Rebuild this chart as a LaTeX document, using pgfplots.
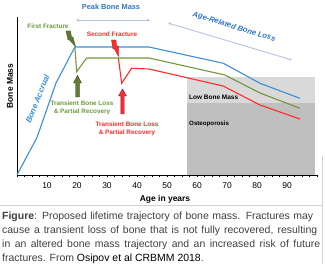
\documentclass[border=0pt]{standalone}
\usepackage{pgfplots}
\pgfplotsset{compat=1.18}
\usetikzlibrary{arrows.meta}
\usepackage{fontspec}
\setmainfont{Liberation Sans}
\definecolor{cblue}{HTML}{3A8FD6}
\definecolor{tblue}{HTML}{2E75C6}
\definecolor{cgreen}{HTML}{77933C}
\definecolor{tgreen}{HTML}{6A9A3A}
\definecolor{cred}{HTML}{FF2A2A}
\definecolor{lgray}{HTML}{D9D9D9}
\definecolor{dgray}{HTML}{BFBFBF}
\definecolor{arrgray}{HTML}{B4C4DE}
\definecolor{capgray}{HTML}{404040}
\begin{document}
\begin{tikzpicture}[x=1bp,y=1bp]
\useasboundingbox (0,0) rectangle (325,266);
\begin{axis}[at={(17bp,91bp)}, anchor=south west, scale only axis,
  width=300bp, height=158bp, xmin=0, xmax=100, ymin=0, ymax=158,
  clip=false, axis x line=bottom, axis y line=left,
  axis line style={-, line width=0.9bp, black},
  x axis line style={-}, y axis line style={-},
  xtick={10,20,...,90}, minor xtick={0,2.5,...,100}, ytick=\empty,
  tick align=outside, major tick length=2.5bp, minor tick length=2.5bp,
  tick style={black, line width=0.6bp},
  ticklabel style={font=\fontsize{8.5}{10}\selectfont},
  xticklabel style={yshift=-2bp},
  /pgf/number format/assume math mode=true]
\addplot[fill=lgray, draw=none] coordinates {(56.7,98) (99.3,98)} \closedcycle;
\addplot[fill=dgray, draw=none] coordinates {(56.7,72) (99.3,72)} \closedcycle;
\addplot[cred, line width=1.1bp] coordinates {(33.8,117) (34.9,91.7) (38.2,106.7) (44,106) (68.7,89) (81,70) (94.3,56)};
\addplot[cgreen, line width=1.1bp] coordinates {(19.3,128) (19.9,103.3) (23.2,117) (44,117) (69.3,100) (81,82) (94.3,66.7)};
\addplot[cblue, line width=1.1bp] coordinates {(0,0) (3,17) (6.6,37) (13,92) (19.3,128) (44,128) (68.8,111.7) (81,91.7) (94.3,76.7)};
\end{axis}
% labels
\node[font=\fontsize{8.5}{10}\selectfont\bfseries] at (165,67) {Age in years};
\node[font=\fontsize{8.5}{10}\selectfont\bfseries, rotate=90] at (10,180) {Bone Mass};
% peak arrow
\draw[arrgray, line width=0.9bp, {Stealth[length=3bp,width=3bp]}-{Stealth[length=3bp,width=3bp]}] (76,246) -- (150,246);
\node[font=\fontsize{7.4}{9}\selectfont\bfseries, text=tblue] at (111,259) {Peak Bone Mass};
% age related arrow
\draw[arrgray, line width=0.9bp, {Stealth[length=3bp,width=3bp]}-{Stealth[length=3bp,width=3bp]}] (168,243) -- (292,206);
\node[font=\fontsize{7.7}{9}\selectfont\bfseries\itshape, text=tblue, rotate=-17] at (234,239) {Age-Related Bone Loss};
\node[font=\fontsize{8}{9}\selectfont\bfseries\itshape, text=cblue, rotate=68] at (37.5,167) {Bone Accrual};
% fractures
\node[font=\fontsize{6.4}{8}\selectfont\bfseries, text=tgreen] at (48,240) {First Fracture};
\node[font=\fontsize{6.4}{8}\selectfont\bfseries, text=cred] at (112,232) {Second Fracture};
\filldraw[fill=cgreen!80!black, draw=cgreen!50!black, line width=0.3bp]
  (66,235) -- (70.5,235) -- (71.5,229) -- (73,229) -- (75.5,219.5) -- (69.5,226) -- (68,226) -- cycle;
\filldraw[fill=cred, draw=cred!60!black, line width=0.3bp]
  (111.5,226) -- (116,226) -- (116.5,220) -- (118.5,220) -- (118.5,209.5) -- (114.5,217) -- (113,217) -- cycle;
% up arrows
\filldraw[fill=cgreen!85!black, draw=cgreen!45!black, line width=0.4bp]
  (77.5,190.5) -- (81.5,183) -- (79.5,183) -- (79.5,169) -- (75.5,169) -- (75.5,183) -- (73.5,183) -- cycle;
\filldraw[fill=cred, draw={rgb,255:red,120;green,20;blue,90}, line width=0.4bp]
  (122.5,177) -- (126.5,170) -- (124.2,170) -- (124.2,152) -- (120.8,152) -- (120.8,170) -- (118.5,170) -- cycle;
\node[font=\fontsize{6.4}{8}\selectfont\bfseries, text=tgreen, align=center] at (82,158) {Transient Bone Loss\\\& Partial Recovery};
\node[font=\fontsize{6.4}{8}\selectfont\bfseries, text=cred, align=center] at (127,137) {Transient Bone Loss\\\& Partial Recovery};
\node[font=\fontsize{6.5}{8}\selectfont\bfseries, anchor=west, inner sep=0] at (189,169) {Low Bone Mass};
\node[font=\fontsize{6.2}{8}\selectfont\bfseries, anchor=west, inner sep=0] at (189,142) {Osteoporosis};
% caption box lines
\draw[gray!35, line width=0.6bp] (0,61) -- (322.5,61);
\draw[gray!35, line width=0.6bp] (322.5,110) -- (322.5,2);
% caption
\begin{scope}[every node/.style={anchor=base west, inner sep=0, font=\fontsize{10.5}{12}\selectfont, text=capgray}]
\node at (2,47) {\makebox[311bp][s]{\textbf{Figure}: Proposed lifetime trajectory of bone mass. Fractures may}};
\node at (2,33) {\makebox[315bp][s]{cause a transient loss of bone that is not fully recovered, resulting}};
\node at (2,19) {\makebox[318bp][s]{in an altered bone mass trajectory and an increased risk of future}};
\node at (2,5) {fractures. From \textcolor{black}{Osipov et al CRBMM 2018}.};
\end{scope}
\end{tikzpicture}
\end{document}
